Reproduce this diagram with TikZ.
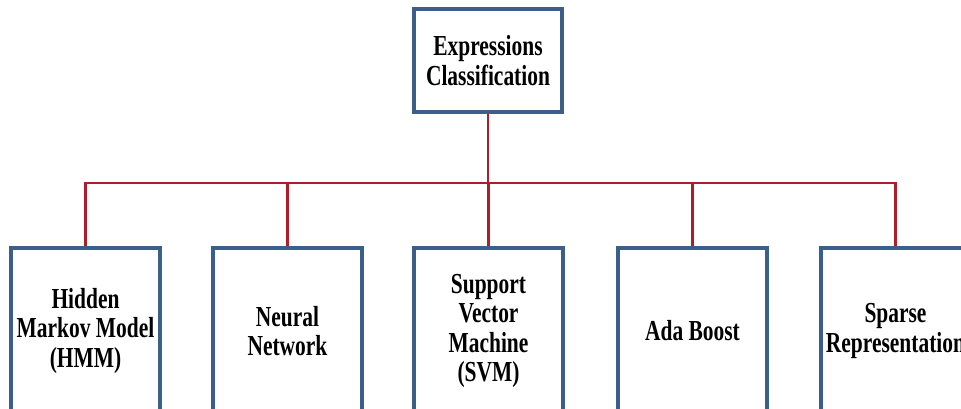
\documentclass[tikz,border=0pt]{standalone}
\usepackage{fontspec}
\setmainfont[FakeStretch=0.74]{Liberation Serif}
\usetikzlibrary{positioning}
\definecolor{boxblue}{HTML}{3A5F88}
\definecolor{linkred}{HTML}{B01C2A}
\tikzstyle{block}=[draw=boxblue,line width=3.2pt,fill=white,rectangle,align=center,inner sep=2pt]
\tikzstyle{leaf}=[block,minimum width=149pt,minimum height=166pt]
\tikzstyle{link}=[draw=linkred,line width=2.9pt]
\tikzstyle{every node}=[font=\bfseries\fontsize{29}{29.5}\selectfont]

\begin{document}
\begin{tikzpicture}[x=1pt,y=1pt]
  \useasboundingbox (0,0) rectangle (961,409);
  \clip (0,0) rectangle (961,409);
  \node[block, minimum width=148pt, minimum height=103pt] (root) at (488,348.5) {Expressions\\Classification};
  \coordinate (bus) at (488,226);
  \node[leaf] (hmm) at (85.5,78) {Hidden\\Markov Model\\(HMM)};
  \node[leaf] (nn) at (287.5,78) {Neural\\Network};
  \node[leaf] (svm) at (488.5,78) {Support\\Vector\\Machine\\(SVM)};
  \node[leaf] (ada) at (692.5,78) {Ada Boost};
  \node[leaf] (sparse) at (895.5,78) {Sparse\\Representation};
  \draw[link] (root) -- (bus);
  \draw[link] (hmm) |- (bus) -| (sparse);
  \draw[link] (nn) -- (nn|-bus);
  \draw[link] (svm) -- (svm|-bus);
  \draw[link] (ada) -- (ada|-bus);
\end{tikzpicture}
\end{document}
